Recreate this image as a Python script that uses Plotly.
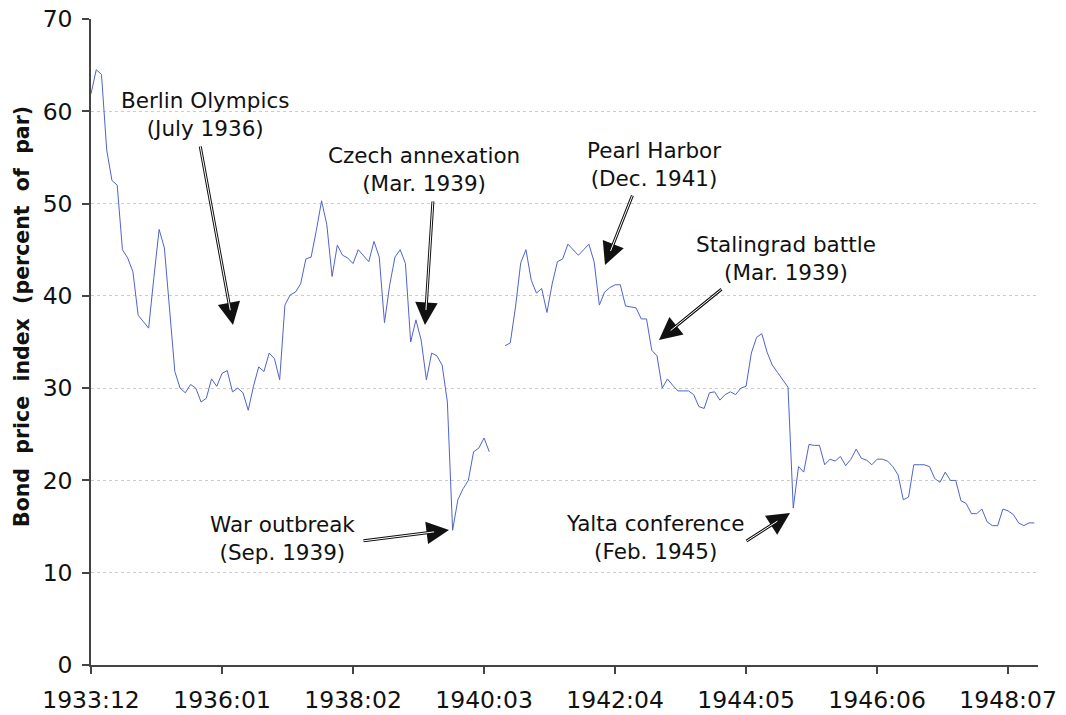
import plotly.graph_objects as go

# Monthly bond price index, 1933:12 .. 1948:12 (percent of par)
months = [f"{1933 + (11 + k) // 12}:{(11 + k) % 12 + 1:02d}" for k in range(181)]

bond_index = [
    61.9, 64.5, 64.0, 55.8, 52.5, 52.0, 45.0, 44.1, 42.6, 37.9,
    37.2, 36.5, 42.0, 47.2, 45.2, 38.5, 31.8, 30.0, 29.5, 30.4,
    30.0, 28.5, 28.9, 31.0, 30.2, 31.6, 31.9, 29.6, 30.0, 29.5,
    27.6, 30.2, 32.3, 31.8, 33.8, 33.2, 30.9, 39.0, 40.1, 40.4,
    41.3, 44.0, 44.2, 47.1, 50.3, 47.7, 42.1, 45.5, 44.4, 44.1,
    43.5, 45.0, 44.3, 43.7, 45.9, 44.2, 37.1, 41.2, 44.2, 45.0,
    43.5, 35.0, 37.4, 35.2, 30.9, 33.8, 33.5, 32.5, 28.5, 14.6,
    17.9, 19.1, 20.0, 23.1, 23.5, 24.6, 23.1, None, None, 34.6,
    34.9, 38.8, 43.6, 45.0, 41.7, 40.3, 40.8, 38.2, 41.3, 43.7,
    44.0, 45.6, 45.0, 44.4, 45.0, 45.6, 43.7, 39.0, 40.4, 40.9,
    41.2, 41.2, 38.9, 38.8, 38.7, 37.5, 37.5, 34.1, 33.5, 30.0,
    31.0, 30.3, 29.7, 29.7, 29.7, 29.3, 28.0, 27.8, 29.5, 29.6,
    28.7, 29.3, 29.6, 29.3, 30.0, 30.2, 33.8, 35.5, 35.9, 33.9,
    32.5, 31.7, 30.9, 30.1, 17.0, 21.5, 20.9, 23.9, 23.8, 23.8,
    21.7, 22.3, 22.1, 22.6, 21.6, 22.3, 23.4, 22.4, 22.2, 21.7,
    22.3, 22.3, 22.1, 21.5, 20.6, 17.9, 18.2, 21.7, 21.7, 21.7,
    21.5, 20.2, 19.8, 20.9, 20.0, 20.0, 17.8, 17.5, 16.4, 16.4,
    16.9, 15.5, 15.1, 15.1, 16.9, 16.7, 16.3, 15.4, 15.1, 15.4,
    15.4,
]

tick_labels = ["1933:12", "1936:01", "1938:02", "1940:03",
               "1942:04", "1944:05", "1946:06", "1948:07"]
y_ticks = [0, 10, 20, 30, 40, 50, 60, 70]

y_title = "Bond\u00a0 price\u00a0 index\u00a0 (percent\u00a0 of\u00a0 par)"

event_texts = [
    "Berlin Olympics<br>(July 1936)",
    "Czech annexation<br>(Mar. 1939)",
    "Pearl Harbor<br>(Dec. 1941)",
    "Stalingrad battle<br>(Mar. 1939)",
    "War outbreak<br>(Sep. 1939)",
    "Yalta conference<br>(Feb. 1945)",
]

FONT = "DejaVu Sans"
W, H = 1066, 715
L, R, T, B = 91, 28, 19, 50
PW, PH = W - L - R, H - T - B

def px(xpix):
    return (xpix - L) / PW

def py(ypix):
    return (H - B - ypix) / PH

# label centres and arrow (head, tail) positions in pixels
label_pos = [(205, 114), (424, 169), (654, 165), (786, 258), (282, 538), (655, 537)]
arrows = [
    ((233, 325), (200, 145)),
    ((425, 325), (433, 200)),
    ((605, 265), (633, 194)),
    ((659, 340), (723, 288)),
    ((449, 530), (362, 541)),
    ((790, 513), (745, 542)),
]

fig = go.Figure()
fig.add_trace(go.Scatter(
    x=months, y=bond_index, mode="lines",
    line=dict(color="#5063cc", width=1),
    connectgaps=False, hoverinfo="x+y", showlegend=False,
))

annotations = []
for text, (lx, ly) in zip(event_texts, label_pos):
    annotations.append(dict(
        text=text, xref="paper", yref="paper", x=px(lx), y=py(ly),
        xanchor="center", yanchor="middle", showarrow=False, align="center",
        font=dict(family=FONT, size=21.5, color="#111111"),
    ))
for (hx, hy), (tx, ty) in arrows:
    annotations.append(dict(
        text="", xref="paper", yref="paper", x=px(hx), y=py(hy),
        ax=tx - hx, ay=ty - hy, showarrow=True,
        arrowhead=2, arrowsize=1.5, arrowwidth=3, arrowcolor="#111111",
    ))
    annotations.append(dict(
        text="", xref="paper", yref="paper", x=px(hx), y=py(hy),
        ax=tx - hx, ay=ty - hy, showarrow=True, standoff=15,
        arrowhead=0, arrowwidth=1, arrowcolor="#ffffff",
    ))
# rotated y-axis title
annotations.append(dict(
    text=y_title, xref="paper", yref="paper", x=px(22), y=py(317),
    xanchor="center", yanchor="middle", showarrow=False, textangle=-90,
    font=dict(family=FONT, size=20.5, color="#111111", weight="bold"),
))

fig.update_layout(
    width=W, height=H,
    margin=dict(l=L, r=R, t=T, b=B, autoexpand=False),
    paper_bgcolor="white", plot_bgcolor="white",
    font=dict(family=FONT, color="#111111"),
    annotations=annotations,
    xaxis=dict(
        type="category", range=[0, 180.7], automargin=False,
        tickmode="array", tickvals=tick_labels, ticktext=tick_labels,
        showgrid=False, zeroline=False,
        showline=True, linecolor="#444444", linewidth=1.5,
        ticks="outside", ticklen=7, tickcolor="#444444", tickwidth=1.5,
        tickfont=dict(family=FONT, size=23.5, color="#111111"),
        ticklabelstandoff=6,
    ),
    yaxis=dict(
        range=[0, 70], tickmode="array", tickvals=y_ticks, automargin=False,
        showgrid=True, gridcolor="#cccccc", griddash="dot", gridwidth=1,
        zeroline=False,
        showline=True, linecolor="#444444", linewidth=1.5,
        ticks="outside", ticklen=7, tickcolor="#444444", tickwidth=1.5,
        tickfont=dict(family=FONT, size=23.5, color="#111111"),
        ticklabelstandoff=5,
    ),
)

fig.write_html(
    "out.html",
    config={"displayModeBar": False},
    post_script="document.body.style.margin='0';document.body.style.overflow='hidden';",
)
